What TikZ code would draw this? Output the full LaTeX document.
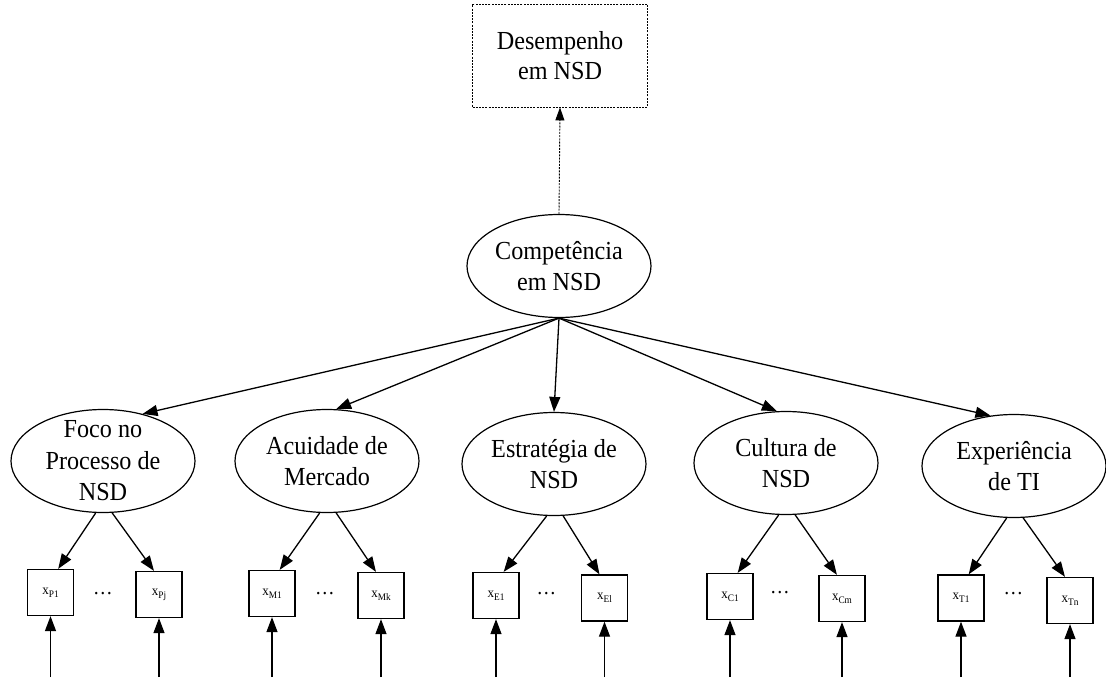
\documentclass[tikz,border=0pt]{standalone}
\usepackage{fontspec}
\setmainfont{Liberation Serif}[FakeStretch=0.93]
\usetikzlibrary{shapes.geometric,arrows.meta}
% indicator label: x with a lowered, smaller index
\newcommand\indlab[1]{x\raisebox{-3pt}{\fontsize{10}{10}\selectfont #1}}
\begin{document}
\begin{tikzpicture}[x=1pt,y=-1pt,
  latent/.style={ellipse,draw,line width=1.2pt,minimum width=184pt,minimum height=103pt,
    inner xsep=0pt,inner ysep=-10pt,align=center,font=\fontsize{26}{31.5}\selectfont},
  outcome/.style={rectangle,draw,line width=0.9pt,dash pattern=on 2pt off 1.2pt,
    minimum width=175pt,minimum height=103pt,inner sep=0pt,align=center,
    font=\fontsize{26}{30}\selectfont},
  indicator/.style={rectangle,draw,line width=1.3pt,minimum size=46pt,inner sep=0pt,
    font=\fontsize{14}{14}\selectfont},
  dotsnode/.style={anchor=base,inner sep=0pt,font=\fontsize{21}{21}\selectfont},
  arr/.style={-{Triangle[length=15pt,width=11pt]},line width=1.3pt},
  dasharr/.style={-{Triangle[length=13pt,width=9pt]},line width=0.9pt,dash pattern=on 2pt off 1.2pt}
]
\useasboundingbox (0,0) rectangle (1106,679);

% outcome and second-order construct
\node[outcome] (perf) at (560,55.5) {Desempenho\\em NSD};
\node[latent] (comp) at (559,266) {Competência\\em NSD};

% first-order constructs
\node[latent] (foco) at (103,461) {Foco no\\Processo de\\NSD};
\node[latent] (acui) at (327,461) {Acuidade de\\Mercado};
\node[latent] (estr) at (554,464) {Estratégia de\\NSD};
\node[latent] (cult) at (786,463) {Cultura de\\NSD};
\node[latent] (expe) at (1014,466) {Experiência\\de TI};

% indicators
\node[indicator] (p1) at (50.5,592.5) {\indlab{P1}};
\node[indicator] (pj) at (159,594.5) {\indlab{Pj}};
\node[indicator] (m1) at (272,593.5) {\indlab{M1}};
\node[indicator] (mk) at (381,595.5) {\indlab{Mk}};
\node[indicator] (e1) at (496,595.5) {\indlab{E1}};
\node[indicator] (el) at (604.5,598) {\indlab{El}};
\node[indicator] (c1) at (730,596.5) {\indlab{C1}};
\node[indicator] (cm) at (842,598.5) {\indlab{Cm}};
\node[indicator] (t1) at (961,598) {\indlab{T1}};
\node[indicator] (tn) at (1070,600.5) {\indlab{Tn}};

% ellipses between indicator pairs
\node[dotsnode] (dp) at (103,594.5) {…};
\node[dotsnode] (dm) at (325,594.5) {…};
\node[dotsnode] (de) at (546.5,594.5) {…};
\node[dotsnode] (dc) at (780,593.5) {…};
\node[dotsnode] (dt) at (1013.5,594.5) {…};

% structural paths
\draw[dasharr] (comp.north) -- (perf.south);
\draw[arr] (comp.south) -- (foco.50);
\draw[arr] (comp.south) -- (acui.80);
\draw[arr] (comp.south) -- (estr.north);
\draw[arr] (comp.south) -- (cult.100);
\draw[arr] (comp.south) -- (expe.115);

% loadings
\draw[arr] (foco.262) -- (p1.72);
\draw[arr] (foco.280) -- (pj.102);
\draw[arr] (acui.262) -- (m1.72);
\draw[arr] (acui.280) -- (mk.102);
\draw[arr] (estr.262) -- (e1.72);
\draw[arr] (estr.280) -- (el.102);
\draw[arr] (cult.262) -- (c1.72);
\draw[arr] (cult.280) -- (cm.102);
\draw[arr] (expe.262) -- (t1.72);
\draw[arr] (expe.280) -- (tn.102);

% error terms
\foreach \b in {p1,pj,m1,mk,e1,el,c1,cm,t1,tn}{
  \coordinate (\b err) at ([yshift=-1pt]\b.south |- 0,676);
  \draw[arr] (\b err) -- (\b.south);
}
\end{tikzpicture}
\end{document}
